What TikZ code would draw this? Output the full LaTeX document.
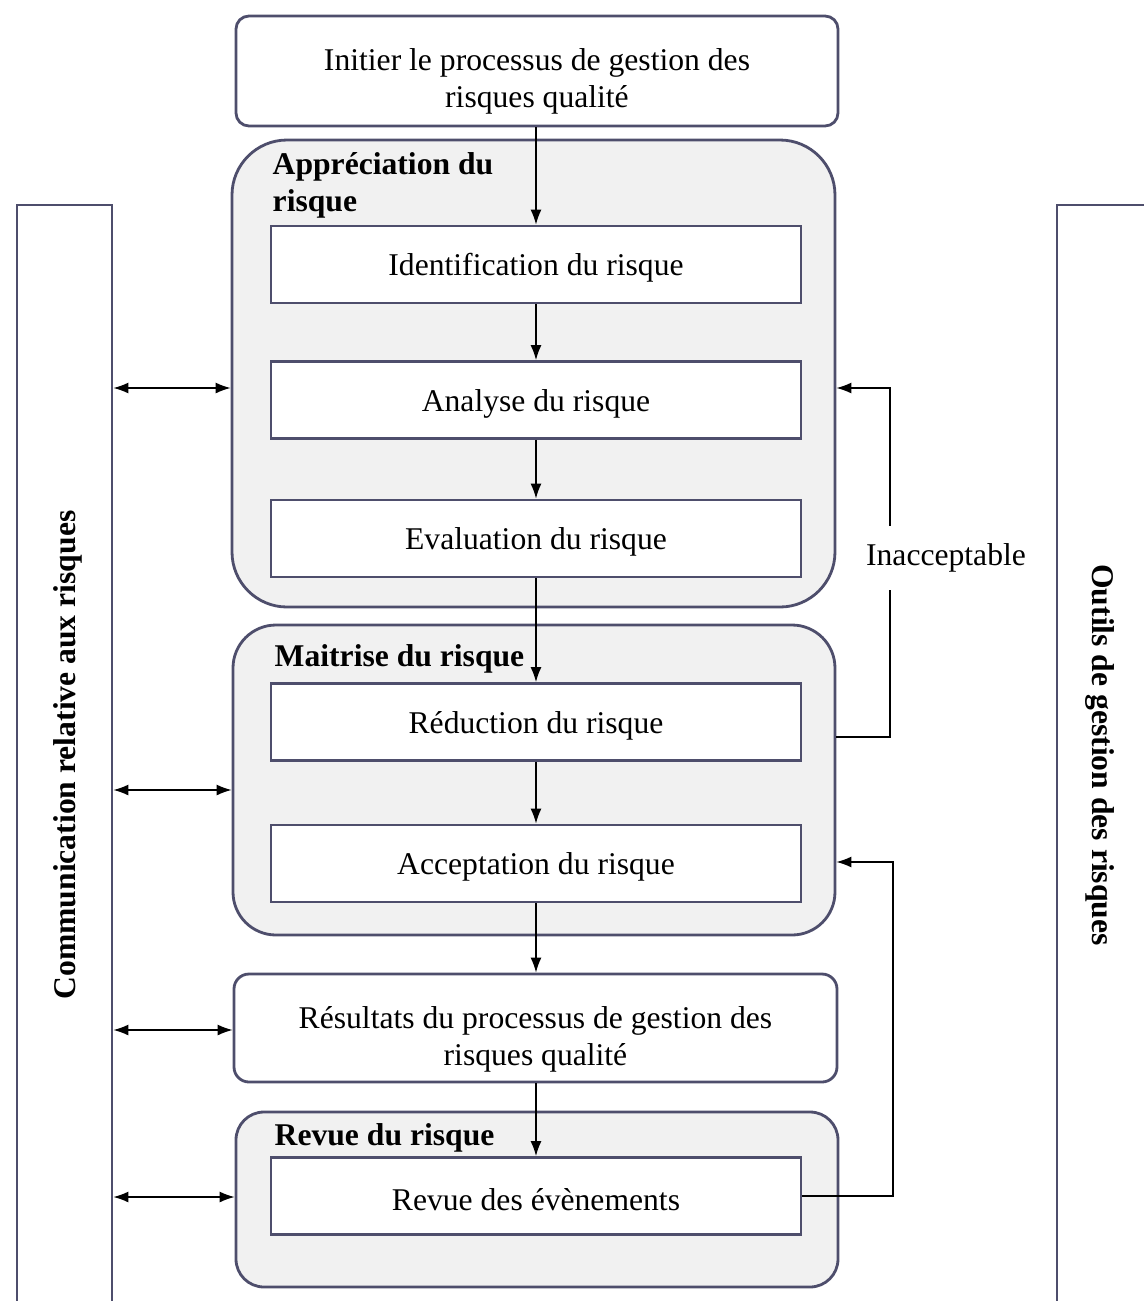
\documentclass[tikz,border=0pt]{standalone}
\usepackage{fontspec}
\setmainfont{Liberation Serif}
\usetikzlibrary{arrows.meta}

\definecolor{framecol}{RGB}{78,78,108}
\definecolor{groupcol}{RGB}{241,241,241}

\begin{document}
\begin{tikzpicture}[
    font=\fontsize{9}{10.5}\selectfont,
    box/.style={draw=framecol, line width=0.8pt, fill=white, minimum width=5.30cm, minimum height=0.77cm, inner sep=0pt},
    rbox/.style={draw=framecol, line width=0.8pt, fill=white, rounded corners=1.3mm, inner sep=0pt, align=center},
    group/.style={draw=framecol, line width=0.8pt, fill=groupcol, inner sep=0pt},
    bar/.style={draw=framecol, line width=0.8pt, inner sep=0pt},
    title/.style={font=\fontsize{9}{10.5}\selectfont\bfseries, anchor=north west, inner sep=0pt, align=left},
    arr/.style={-{Latex[length=1.5mm,width=1.1mm]}, line width=0.4pt},
    dbl/.style={{Latex[length=1.5mm,width=1.1mm]}-{Latex[length=1.5mm,width=1.1mm]}, line width=0.4pt}
]
    \useasboundingbox (0,0) rectangle (11.44,-13.01);

    % ==================== SIDE BARS ====================
    \node[bar, minimum width=0.95cm, minimum height=11.25cm] (comm) at (0.645,-7.675) {};
    \node[bar, minimum width=1.13cm, minimum height=11.25cm] (outils) at (11.135,-7.675) {};
    \node[rotate=90, font=\fontsize{9}{10.5}\selectfont\bfseries] (commtxt) at (0.68,-7.55) {Communication relative aux risques};
    \node[rotate=-90, font=\fontsize{9}{10.5}\selectfont\bfseries] (outtxt) at (11.00,-7.55) {Outils de gestion des risques};

    % ==================== GROUPS ====================
    \node[group, rounded corners=5.5mm, minimum width=6.03cm, minimum height=4.67cm] (appr) at (5.335,-3.735) {};
    \node[title] (apprtxt) at (2.72,-1.52) {Appréciation du\\risque};

    \node[group, rounded corners=4.3mm, minimum width=6.02cm, minimum height=3.10cm] (maitr) at (5.34,-7.80) {};
    \node[title] (maitrtxt) at (2.74,-6.44) {Maitrise du risque};

    \node[group, rounded corners=2.8mm, minimum width=6.02cm, minimum height=1.75cm] (revue) at (5.37,-11.995) {};
    \node[title] (revuetxt) at (2.74,-11.23) {Revue du risque};

    % ==================== BOXES ====================
    % (the rule pushes the two-line texts a little lower, as in the reference)
    \node[rbox, minimum width=6.02cm, minimum height=1.10cm] (init) at (5.37,-0.71) {\rule{0pt}{4.2mm}Initier le processus de gestion des\\risques qualité};
    \node[box] (ident) at (5.36,-2.645) {\rule{0pt}{2.9mm}Identification du risque};
    \node[box] (anal) at (5.36,-4.00) {\rule{0pt}{2.9mm}Analyse du risque};
    \node[box] (eval) at (5.36,-5.385) {\rule{0pt}{2.9mm}Evaluation du risque};
    \node[box] (reduc) at (5.36,-7.22) {\rule{0pt}{2.9mm}Réduction du risque};
    \node[box] (accep) at (5.36,-8.635) {\rule{0pt}{2.9mm}Acceptation du risque};
    \node[rbox, rounded corners=1.5mm, minimum width=6.03cm, minimum height=1.08cm] (result) at (5.355,-10.28) {\rule{0pt}{4.4mm}Résultats du processus de gestion des\\risques qualité};
    \node[box] (revev) at (5.36,-11.96) {\rule{0pt}{2.9mm}Revue des évènements};

    % ==================== MAIN FLOW ====================
    \draw[arr] (init.south -| ident) -- (ident.north);
    \draw[arr] (ident) -- (anal);
    \draw[arr] (anal) -- (eval);
    \draw[arr] (eval) -- (reduc);
    \draw[arr] (reduc) -- (accep);
    \draw[arr] (accep.south) -- (result.north -| accep);
    \draw[arr] (result.south -| revev) -- (revev.north);

    % ==================== COMMUNICATION ARROWS ====================
    \coordinate (c1) at (0,-3.88);
    \coordinate (c2) at (0,-7.90);
    \coordinate (c3) at (0,-10.30);
    \coordinate (c4) at (0,-11.97);
    \draw[dbl] (comm.east |- c1) -- (appr.west |- c1);
    \draw[dbl] (comm.east |- c2) -- (maitr.west |- c2);
    \draw[dbl] (comm.east |- c3) -- (result.west |- c3);
    \draw[dbl] (comm.east |- c4) -- (revue.west |- c4);

    % ==================== FEEDBACK LOOPS ====================
    \coordinate (f1) at (8.90,-7.37);
    \coordinate (f2) at (8.93,-8.62);
    \draw[arr] (maitr.east |- f1) -- (f1) |- (appr.east |- c1);
    \node[fill=white, inner xsep=1pt, minimum height=6.4mm] (inacc) at (9.46,-5.58) {Inacceptable};
    \draw[arr] (revev.east) -| (f2) -- (maitr.east |- f2);

\end{tikzpicture}
\end{document}
